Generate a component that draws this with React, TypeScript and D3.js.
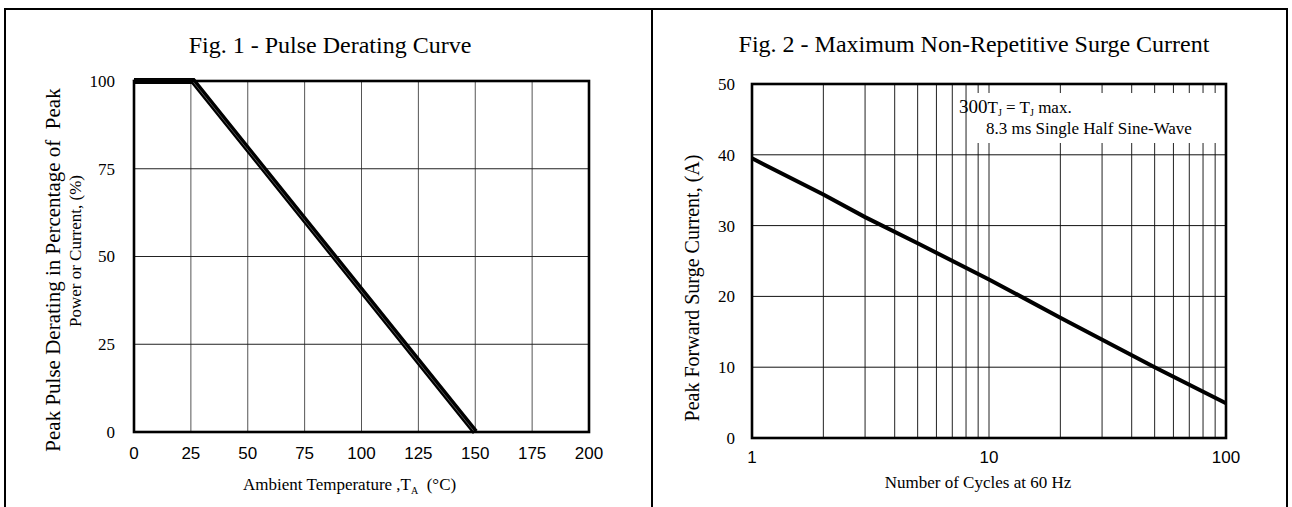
import * as d3 from "d3";

// Fig. 1 - pulse derating
const derTemp = [0, 26, 150];
const derPct = [100, 100, 0];
const xTicks1 = [0, 25, 50, 75, 100, 125, 150, 175, 200];
const yTicks1 = [0, 25, 50, 75, 100];

// Fig. 2 - surge current
const surgeCycles = [1, 2, 3, 5, 10, 20, 50, 100];
const surgeAmps = [39.5, 34.4, 31.2, 27.5, 22.4, 17.0, 10.0, 4.9];
const xTicks2 = [1, 10, 100];
const xGrid2 = [2, 3, 4, 5, 6, 7, 8, 9, 10, 20, 30, 40, 50, 60, 70, 80, 90];
const yTicks2 = [0, 10, 20, 30, 40, 50];

const SERIF = "'Liberation Serif', 'Times New Roman', serif";
const SANS = "'Liberation Sans', Arial, sans-serif";

const W = 1292;
const H = 507;

const DeratingChart = () => {
  const x = d3.scaleLinear().domain([0, 200]).range([134, 589]);
  const y = d3.scaleLinear().domain([0, 100]).range([432, 81]);
  const pts = derTemp.map((t, i) => [t, derPct[i]] as [number, number]);
  const line = d3
    .line<[number, number]>()
    .x((d) => x(d[0]))
    .y((d) => y(d[1]));

  return (
    <g>
      {/* grid */}
      {xTicks1.slice(1, -1).map((t) => (
        <line key={"gx" + t} x1={x(t)} x2={x(t)} y1={y(0)} y2={y(100)} stroke="#555" strokeWidth={1} />
      ))}
      {yTicks1.slice(1, -1).map((t) => (
        <line key={"gy" + t} x1={x(0)} x2={x(200)} y1={y(t)} y2={y(t)} stroke="#222" strokeWidth={1} />
      ))}
      <path d={line(pts) || ""} fill="none" stroke="#000" strokeWidth={6} strokeLinejoin="miter" />
      <path
        d={line(pts) || ""}
        fill="none"
        stroke="#666"
        strokeWidth={0.8}
        transform="translate(-1.2,-0.6)"
      />
      <rect x={x(0)} y={y(100)} width={x(200) - x(0)} height={y(0) - y(100)} fill="none" stroke="#000" strokeWidth={2.6} />

      {/* ticks */}
      {yTicks1.map((t) => (
        <text key={"ty" + t} x={115} y={y(t)} dy="0.35em" textAnchor="end" fontFamily={SERIF} fontSize={17}>
          {t}
        </text>
      ))}
      {xTicks1.map((t) => (
        <text key={"tx" + t} x={x(t)} y={459} textAnchor="middle" fontFamily={SANS} fontSize={17}>
          {t}
        </text>
      ))}

      {/* labels */}
      <text x={330} y={53} textAnchor="middle" fontFamily={SERIF} fontSize={24}>
        Fig. 1 - Pulse Derating Curve
      </text>
      <text x={243} y={490} fontFamily={SERIF} fontSize={17} style={{ whiteSpace: "pre" }}>
        Ambient Temperature ,T
        <tspan fontSize={10} dy={4}>A</tspan>
        <tspan dy={-4}>{"  (°C)"}</tspan>
      </text>
      <text
        transform="translate(53,270) rotate(-90)"
        textAnchor="middle"
        dy="0.35em"
        fontFamily={SERIF}
        fontSize={21}
        style={{ whiteSpace: "pre" }}
      >
        {"Peak Pulse Derating in Percentage of  Peak"}
      </text>
      <text
        transform="translate(75,251) rotate(-90)"
        textAnchor="middle"
        dy="0.35em"
        fontFamily={SERIF}
        fontSize={17}
      >
        Power or Current, (%)
      </text>
    </g>
  );
};

const SurgeChart = () => {
  const x = d3.scaleLog().domain([1, 100]).range([752, 1226]);
  const y = d3.scaleLinear().domain([0, 50]).range([438, 84]);
  const pts = surgeCycles.map((c, i) => [c, surgeAmps[i]] as [number, number]);
  const line = d3
    .line<[number, number]>()
    .x((d) => x(d[0]))
    .y((d) => y(d[1]));

  return (
    <g>
      {xGrid2.map((c) => (
        <line key={"gx" + c} x1={x(c)} x2={x(c)} y1={y(0)} y2={y(50)} stroke="#222" strokeWidth={1} />
      ))}
      {yTicks2.slice(1, -1).map((t) => (
        <line key={"gy" + t} x1={x(1)} x2={x(100)} y1={y(t)} y2={y(t)} stroke="#111" strokeWidth={1} />
      ))}

      {/* annotation box */}
      <rect x={970} y={93} width={x(100) - 4 - 970} height={50} fill="#fff" />
      <text x={959} y={113} fontFamily={SERIF} fontSize={17}>
        <tspan fontSize={19}>300</tspan>
        <tspan>T</tspan>
        <tspan fontSize={10} dy={3}>J</tspan>
        <tspan dy={-3}> = T</tspan>
        <tspan fontSize={10} dy={3}>J</tspan>
        <tspan dy={-3}> max.</tspan>
      </text>
      <text x={986} y={134} fontFamily={SERIF} fontSize={17}>
        8.3 ms Single Half Sine-Wave
      </text>

      <path d={line(pts) || ""} fill="none" stroke="#000" strokeWidth={4} />
      <rect x={x(1)} y={y(50)} width={x(100) - x(1)} height={y(0) - y(50)} fill="none" stroke="#000" strokeWidth={2.6} />

      {yTicks2.map((t) => (
        <text key={"ty" + t} x={735} y={y(t)} dy="0.35em" textAnchor="end" fontFamily={SERIF} fontSize={17}>
          {t}
        </text>
      ))}
      {xTicks2.map((c) => (
        <text key={"tx" + c} x={x(c)} y={463} textAnchor="middle" fontFamily={SANS} fontSize={17}>
          {c}
        </text>
      ))}

      <text x={974} y={52} textAnchor="middle" fontFamily={SERIF} fontSize={24}>
        Fig. 2 - Maximum Non-Repetitive Surge Current
      </text>
      <text x={978} y={488} textAnchor="middle" fontFamily={SERIF} fontSize={17}>
        Number of Cycles at 60 Hz
      </text>
      <text
        transform="translate(692,288) rotate(-90)"
        textAnchor="middle"
        dy="0.35em"
        fontFamily={SERIF}
        fontSize={20}
      >
        Peak Forward Surge Current, (A)
      </text>
    </g>
  );
};

export default function App() {
  return (
    <svg
      width={W}
      height={H}
      viewBox={`0 0 ${W} ${H}`}
      style={{ position: "absolute", left: 0, top: 0, background: "#fff" }}
    >
      <rect x={0} y={0} width={W} height={H} fill="#fff" />
      {/* panel frames, open at the bottom */}
      <path d={`M5,${H} V9 H1287 V${H}`} fill="none" stroke="#000" strokeWidth={2} />
      <line x1={652} x2={652} y1={9} y2={H} stroke="#000" strokeWidth={2} />
      <DeratingChart />
      <SurgeChart />
    </svg>
  );
}
